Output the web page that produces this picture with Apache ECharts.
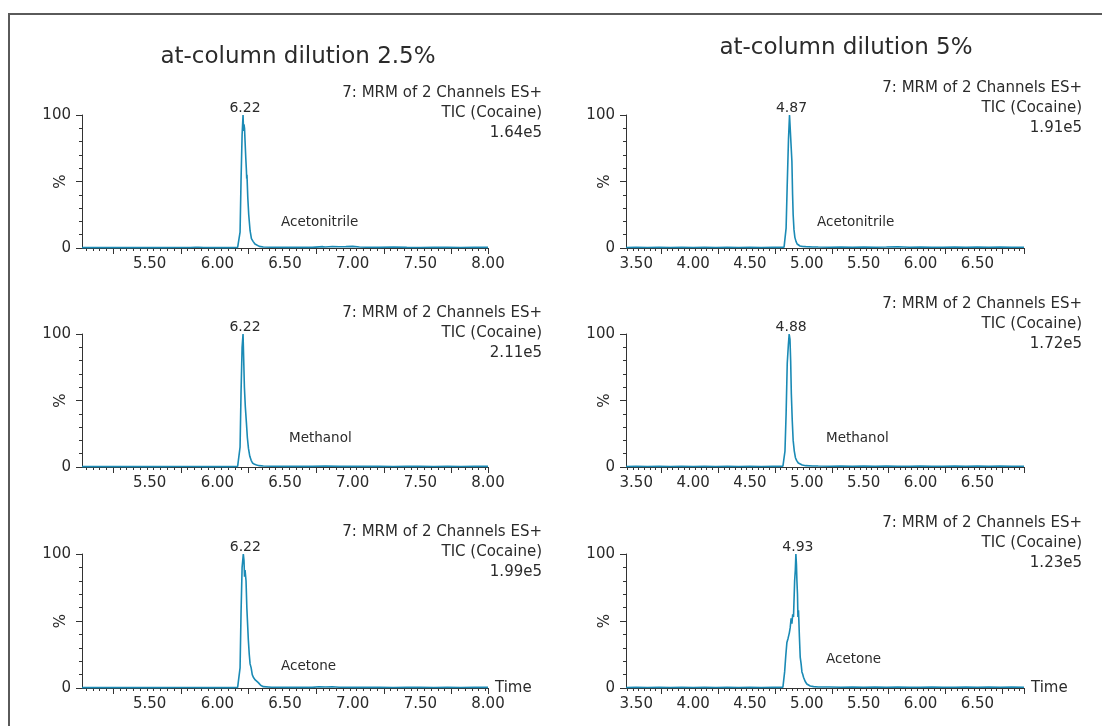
<!DOCTYPE html>
<html>
<head>
<meta charset="utf-8">
<script src="https://cdn.jsdelivr.net/npm/echarts@6/dist/echarts.min.js"></script>
<style>
html,body{margin:0;padding:0;background:#fff;}
#chart{width:1102px;height:726px;}
</style>
</head>
<body>
<div id="chart"></div>
<script>
// ---------- DATA ----------
const titleLeft = 'at-column dilution 2.5%';
const titleRight = 'at-column dilution 5%';
const solvents = ['Acetonitrile', 'Methanol', 'Acetone'];
const intensityLeft = ['1.64e5', '2.11e5', '1.99e5'];
const intensityRight = ['1.91e5', '1.72e5', '1.23e5'];
const peakLabelLeft = ['6.22', '6.22', '6.22'];
const peakLabelRight = ['4.87', '4.88', '4.93'];

// x tick labels
const xLabelsLeft = [5.5, 6.0, 6.5, 7.0, 7.5, 8.0];
const xLabelsRight = [3.5, 4.0, 4.5, 5.0, 5.5, 6.0, 6.5];
// major tick marks (as drawn in the reference)
const xMajorLeft = [5.23, 5.73, 6.23, 6.73, 7.23, 7.73];
const xMajorRight = [3.72, 4.22, 4.72, 5.22, 5.72, 6.22, 6.72];
const xRangeLeft = [5.0, 8.0];
const xRangeRight = [3.41, 6.91];

// Left, Acetonitrile
const tL1 = [5.00,5.10,5.20,5.30,5.40,5.50,5.60,5.70,5.80,5.84,5.85,5.86,5.90,6.00,6.10,6.15,6.163,6.168,6.175,6.183,6.19,6.194,6.197,6.201,6.205,6.210,6.215,6.217,6.219,6.225,6.232,6.242,6.252,6.264,6.278,6.291,6.31,6.34,6.40,6.50,6.60,6.70,6.78,6.80,6.85,6.90,6.95,7.00,7.05,7.10,7.20,7.30,7.40,7.50,7.60,7.70,7.80,7.90,8.00];
const vL1 = [0.3,0.4,0.3,0.4,0.3,0.4,0.3,0.4,0.4,0.6,2.0,0.6,0.4,0.3,0.3,0.4,1,12,50,85,100,88,93,90,80,68,58,52,55,38,25,13,7,5,3,2,1.2,0.8,0.6,0.5,0.6,0.5,1.0,0.7,1.1,0.9,1.0,1.2,0.8,0.6,0.5,0.7,0.5,0.4,0.6,0.5,0.4,0.5,0.5];
// Left, Methanol
const tL2 = [5.00,5.10,5.20,5.30,5.40,5.50,5.60,5.70,5.80,5.90,6.00,6.10,6.15,6.163,6.168,6.175,6.183,6.19,6.195,6.20,6.207,6.215,6.222,6.23,6.24,6.25,6.26,6.275,6.29,6.31,6.34,6.40,6.50,6.60,6.70,6.80,6.90,7.00,7.10,7.20,7.30,7.40,7.50,7.60,7.70,7.80,7.90,8.00];
const vL2 = [0.3,0.4,0.3,0.4,0.3,0.4,0.3,0.4,0.4,0.3,0.4,0.3,0.4,1,15,55,90,100,80,60,45,33,22,14,8,5,3,2,1.5,1,0.7,0.6,0.5,0.6,0.5,0.7,0.5,0.6,0.5,0.5,0.4,0.6,0.5,0.4,0.5,0.4,0.5,0.5];
// Left, Acetone
const tL3 = [5.00,5.10,5.20,5.30,5.40,5.50,5.60,5.70,5.80,5.90,6.00,6.10,6.15,6.163,6.168,6.175,6.183,6.192,6.197,6.201,6.205,6.209,6.212,6.218,6.229,6.236,6.242,6.25,6.258,6.266,6.28,6.292,6.303,6.32,6.34,6.40,6.50,6.60,6.70,6.75,6.80,6.85,6.90,7.00,7.10,7.20,7.30,7.40,7.50,7.60,7.70,7.80,7.90,8.00];
const vL3 = [0.3,0.4,0.3,0.4,0.3,0.4,0.3,0.4,0.4,0.3,0.4,0.3,0.4,1,15,55,90,100,95,83,88,87,80,60,36,25,18,15,10,8,6,5,4,2,1,0.6,0.5,0.6,0.5,0.9,0.8,0.9,0.6,0.5,0.6,0.5,0.4,0.6,0.5,0.4,0.5,0.4,0.5,0.5];
// Right, Acetonitrile
const tR1 = [3.41,3.50,3.60,3.70,3.80,3.90,4.00,4.10,4.20,4.30,4.40,4.50,4.60,4.70,4.76,4.80,4.81,4.818,4.827,4.839,4.848,4.855,4.86,4.869,4.875,4.88,4.887,4.895,4.905,4.915,4.93,4.94,4.96,4.99,5.05,5.10,5.20,5.30,5.40,5.50,5.60,5.70,5.80,5.90,6.00,6.10,6.20,6.30,6.40,6.50,6.60,6.70,6.80,6.91];
const vR1 = [0.4,0.6,0.4,0.5,0.4,0.5,0.4,0.5,0.4,0.5,0.4,0.5,0.4,0.5,0.5,0.6,1,15,45,82,100,100,99,65,40,25,14,8,5,3,2,1.5,1.2,1,0.8,0.7,0.6,0.7,0.6,0.8,0.6,0.7,0.9,0.6,0.7,0.6,0.6,0.7,0.6,0.8,0.6,0.7,0.6,0.6];
// Right, Methanol
const tR2 = [3.41,3.50,3.60,3.70,3.80,3.90,4.00,4.10,4.20,4.30,4.40,4.50,4.60,4.70,4.76,4.79,4.80,4.808,4.818,4.828,4.838,4.845,4.852,4.858,4.864,4.872,4.88,4.89,4.90,4.91,4.925,4.94,4.96,4.99,5.05,5.10,5.20,5.30,5.40,5.50,5.60,5.70,5.80,5.90,6.00,6.10,6.20,6.30,6.40,6.50,6.60,6.70,6.80,6.91];
const vR2 = [0.4,0.6,0.4,0.5,0.4,0.5,0.4,0.5,0.4,0.5,0.4,0.5,0.4,0.5,0.5,0.6,1,12,40,78,92,100,96,80,55,35,20,12,7,5,3,2,1.5,1,0.8,0.7,0.6,0.7,0.6,0.8,0.6,0.7,0.6,0.6,0.7,0.6,0.6,0.7,0.6,0.8,0.6,0.7,0.6,0.6];
// Right, Acetone
const tR3 = [3.41,3.50,3.60,3.70,3.80,3.90,4.00,4.10,4.20,4.30,4.40,4.50,4.60,4.70,4.76,4.79,4.795,4.805,4.815,4.825,4.835,4.846,4.854,4.862,4.869,4.876,4.883,4.893,4.899,4.904,4.909,4.913,4.918,4.922,4.927,4.935,4.942,4.95,4.957,4.965,4.971,4.985,5.00,5.03,5.06,5.10,5.20,5.30,5.40,5.50,5.60,5.70,5.80,5.90,6.00,6.10,6.20,6.30,6.40,6.50,6.60,6.70,6.80,6.91];
const vR3 = [0.4,0.6,0.4,0.5,0.4,0.5,0.4,0.5,0.4,0.5,0.4,0.5,0.4,0.5,0.5,0.6,2,12,24,34,37,41,45,52,48,55,53,80,88,100,92,80,70,53,58,38,23,18,12,10,8,5,3,1.5,1,0.8,0.7,0.6,0.7,0.6,0.8,0.6,0.7,0.6,0.6,0.7,0.6,0.6,0.7,0.6,0.8,0.6,0.7,0.6];

// ---------- LAYOUT ----------
const FONT = 'DejaVu Sans';
const TXT = '#2b2b2b';
const AX = '#333';
const LINE = '#1a8ab5';
const rowTops = [115, 334, 554];
const rowH = [133, 133, 134];
const colLeft = [82, 626];
const colW = [406, 398];

const panels = [
  {col:0,row:0,t:tL1,v:vL1}, {col:0,row:1,t:tL2,v:vL2}, {col:0,row:2,t:tL3,v:vL3},
  {col:1,row:0,t:tR1,v:vR1}, {col:1,row:1,t:tR2,v:vR2}, {col:1,row:2,t:tR3,v:vR3}
];

function minorTicks(range, majors) {
  const out = [];
  const start = majors[0];
  for (let k = -20; k < 100; k++) {
    const x = +(start + k * 0.05).toFixed(3);
    if (x < range[0] - 1e-9 || x > range[1] + 1e-9) continue;
    out.push(x);
  }
  return out;
}

const grid = [], xAxis = [], yAxis = [], series = [];
panels.forEach((p, i) => {
  grid.push({left: colLeft[p.col], top: rowTops[p.row], width: colW[p.col], height: rowH[p.row], containLabel: false});
  const range = p.col === 0 ? xRangeLeft : xRangeRight;
  const labels = p.col === 0 ? xLabelsLeft : xLabelsRight;
  const majors = p.col === 0 ? xMajorLeft : xMajorRight;
  xAxis.push({
    type: 'value', gridIndex: i, min: range[0], max: range[1], position: 'bottom',
    name: p.row === 2 ? 'Time' : '', nameLocation: 'end', nameGap: 7, nameMoveOverlap: false,
    nameTextStyle: {fontFamily: FONT, fontSize: 15, color: TXT, verticalAlign: 'middle'},
    axisLine: {show: true, lineStyle: {color: AX, width: 1}},
    axisTick: {show: true, length: 6, inside: false, customValues: majors.concat([range[1]]), lineStyle: {color: AX}},
    axisLabel: {show: true, customValues: labels, margin: 9, fontFamily: FONT, fontSize: 15, color: TXT,
      formatter: v => v.toFixed(2)},
    splitLine: {show: false}
  });
  yAxis.push({
    type: 'value', gridIndex: i, min: 0, max: 100, interval: 50,
    name: '%', nameLocation: 'middle', nameGap: 13, nameMoveOverlap: false,
    nameTextStyle: {fontFamily: FONT, fontSize: 15, color: TXT},
    axisLine: {show: true, lineStyle: {color: AX, width: 1}},
    axisTick: {show: true, length: 6, lineStyle: {color: AX}},
    minorTick: {show: true, splitNumber: 5, length: 3, lineStyle: {color: AX}},
    axisLabel: {margin: 11, fontFamily: FONT, fontSize: 15, color: TXT, formatter: v => (v === 50 ? '' : String(v))},
    splitLine: {show: false}
  });
});
// minor x ticks on overlapping axes
panels.forEach((p, i) => {
  const range = p.col === 0 ? xRangeLeft : xRangeRight;
  const majors = p.col === 0 ? xMajorLeft : xMajorRight;
  xAxis.push({
    type: 'value', gridIndex: i, min: range[0], max: range[1], position: 'bottom', offset: 0,
    axisLine: {show: false},
    axisTick: {show: true, length: 3, customValues: minorTicks(range, majors), lineStyle: {color: AX}},
    axisLabel: {show: false}, splitLine: {show: false}
  });
});

panels.forEach((p, i) => {
  const data = p.t.map((t, k) => [t, p.v[k]]);
  let apex = 0;
  p.v.forEach((val, k) => { if (val > p.v[apex]) apex = k; });
  const lbl = p.col === 0 ? peakLabelLeft[p.row] : peakLabelRight[p.row];
  series.push({
    type: 'line', xAxisIndex: i, yAxisIndex: i, data: data,
    showSymbol: false, symbol: 'none', animation: false,
    lineStyle: {color: LINE, width: 1.6},
    markPoint: {
      symbol: 'circle', symbolSize: 0, animation: false,
      data: [{coord: [p.t[apex], p.v[apex]], value: lbl}],
      label: {show: true, position: 'top', distance: 0, offset: [2, 0], formatter: lbl,
        fontFamily: FONT, fontSize: 14, color: TXT}
    }
  });
});

// ---------- TEXT ----------
const graphic = [];
graphic.push({type: 'rect', shape: {x: 9, y: 14, width: 1200, height: 800}, style: {fill: 'none', stroke: '#5a5a5a', lineWidth: 2}, silent: true});
graphic.push({type: 'text', x: 298, y: 57, style: {text: titleLeft, font: '23px "DejaVu Sans"', fill: TXT, textAlign: 'center', textVerticalAlign: 'middle'}});
graphic.push({type: 'text', x: 846, y: 48, style: {text: titleRight, font: '23px "DejaVu Sans"', fill: TXT, textAlign: 'center', textVerticalAlign: 'middle'}});

const annTopLeft = [93, 313, 532];
const annTopRight = [88, 304, 523];
for (let r = 0; r < 3; r++) {
  [[542, annTopLeft[r], intensityLeft[r]], [1082, annTopRight[r], intensityRight[r]]].forEach(([x, y, inten]) => {
    const lines = ['7: MRM of 2 Channels ES+', 'TIC (Cocaine)', inten];
    lines.forEach((s, j) => graphic.push({type: 'text', x: x, y: y + j * 20,
      style: {text: s, font: '15px "DejaVu Sans"', fill: TXT, textAlign: 'right', textVerticalAlign: 'middle'}}));
  });
}
const solvLeftPos = [[281, 222], [289, 438], [281, 666]];
const solvRightPos = [[817, 222], [826, 438], [826, 659]];
for (let r = 0; r < 3; r++) {
  graphic.push({type: 'text', x: solvLeftPos[r][0], y: solvLeftPos[r][1], style: {text: solvents[r], font: '13.5px "DejaVu Sans"', fill: TXT, textAlign: 'left', textVerticalAlign: 'middle'}});
  graphic.push({type: 'text', x: solvRightPos[r][0], y: solvRightPos[r][1], style: {text: solvents[r], font: '13.5px "DejaVu Sans"', fill: TXT, textAlign: 'left', textVerticalAlign: 'middle'}});
}

const chart = echarts.init(document.getElementById('chart'), null, {renderer: 'canvas'});
chart.setOption({
  backgroundColor: '#fff',
  animation: false,
  grid, xAxis, yAxis, series, graphic
});
</script>
</body>
</html>
